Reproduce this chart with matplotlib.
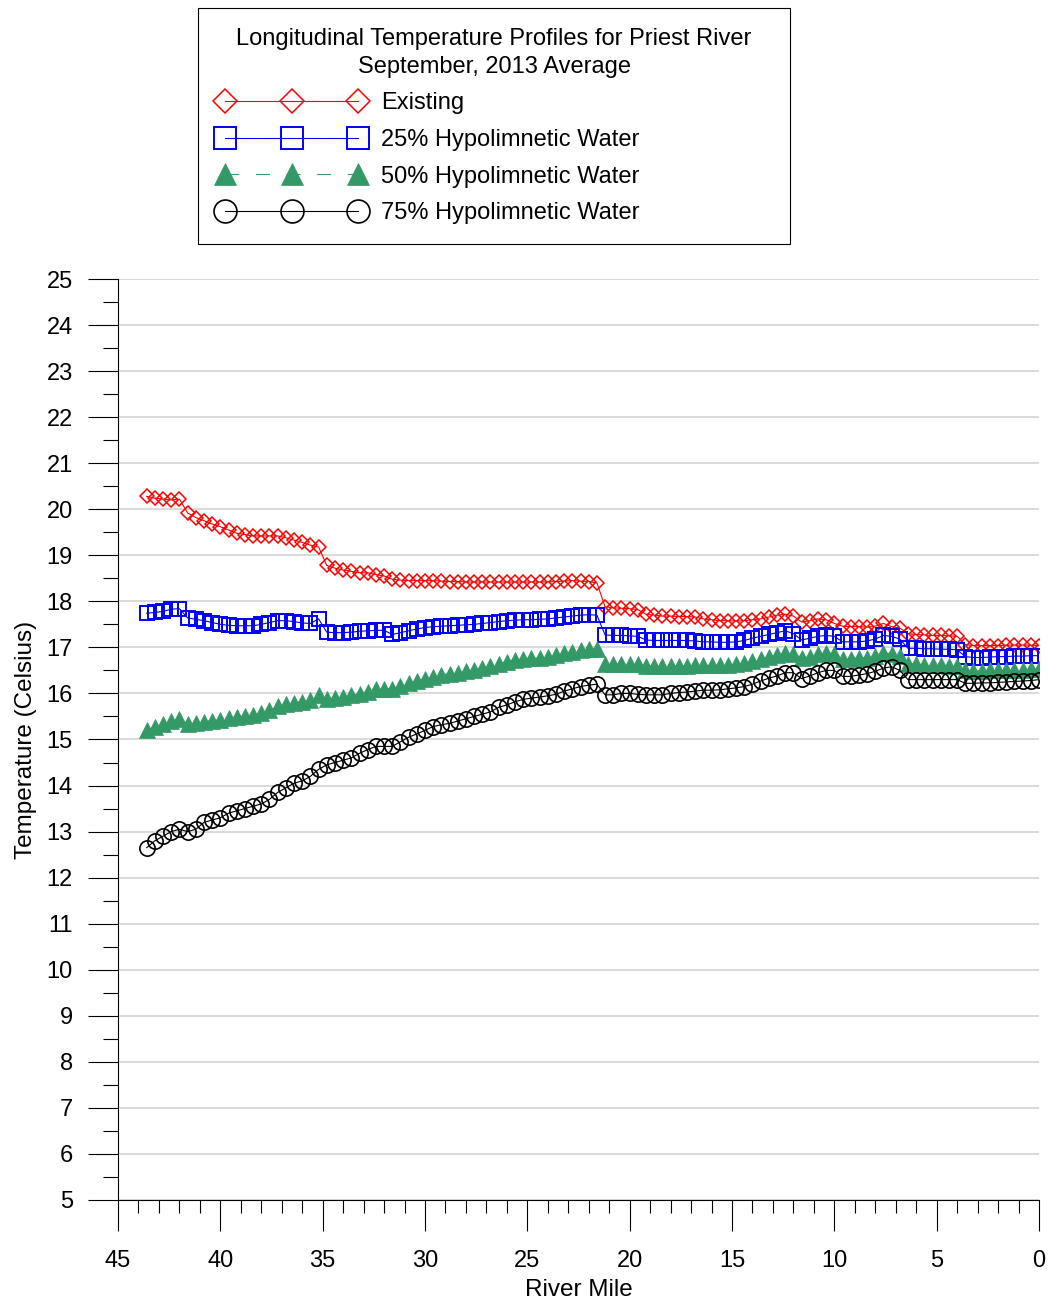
import numpy as np
import matplotlib
matplotlib.use('Agg')
import matplotlib.pyplot as plt
import matplotlib.ticker as ticker

plt.rcParams['font.family'] = ['Liberation Sans', 'DejaVu Sans']

# river mile stations (upstream -> downstream)
river_mile = [43.6, 43.2, 42.8, 42.4, 42.0, 41.6, 41.2, 40.8, 40.4, 40.0,
              39.6, 39.2, 38.8, 38.4, 38.0, 37.6, 37.2, 36.8, 36.4, 36.0,
              35.6, 35.2, 34.8, 34.4, 34.0, 33.6, 33.2, 32.8, 32.4, 32.0,
              31.6, 31.2, 30.8, 30.4, 30.0, 29.6, 29.2, 28.8, 28.4, 28.0,
              27.6, 27.2, 26.8, 26.4, 26.0, 25.6, 25.2, 24.8, 24.4, 24.0,
              23.6, 23.2, 22.8, 22.4, 22.0, 21.6, 21.2, 20.8, 20.4, 20.0,
              19.6, 19.2, 18.8, 18.4, 18.0, 17.6, 17.2, 16.8, 16.4, 16.0,
              15.6, 15.2, 14.8, 14.4, 14.0, 13.6, 13.2, 12.8, 12.4, 12.0,
              11.6, 11.2, 10.8, 10.4, 10.0, 9.6, 9.2, 8.8, 8.4, 8.0,
              7.6, 7.2, 6.8, 6.4, 6.0, 5.6, 5.2, 4.8, 4.4, 4.0,
              3.6, 3.2, 2.8, 2.4, 2.0, 1.6, 1.2, 0.8, 0.4, 0.0]

existing = [20.28, 20.24, 20.22, 20.20, 20.22, 19.92, 19.82, 19.75, 19.68, 19.62,
            19.55, 19.48, 19.45, 19.42, 19.42, 19.42, 19.42, 19.38, 19.33, 19.28,
            19.22, 19.18, 18.78, 18.72, 18.68, 18.65, 18.62, 18.62, 18.58, 18.55,
            18.48, 18.46, 18.45, 18.45, 18.45, 18.45, 18.44, 18.43, 18.43, 18.42,
            18.42, 18.42, 18.42, 18.42, 18.42, 18.42, 18.42, 18.42, 18.42, 18.42,
            18.43, 18.44, 18.45, 18.44, 18.43, 18.40, 17.88, 17.86, 17.85, 17.84,
            17.82, 17.72, 17.70, 17.68, 17.68, 17.67, 17.67, 17.66, 17.62, 17.60,
            17.58, 17.58, 17.57, 17.58, 17.60, 17.62, 17.66, 17.70, 17.72, 17.68,
            17.55, 17.58, 17.62, 17.60, 17.52, 17.46, 17.45, 17.45, 17.44, 17.46,
            17.52, 17.45, 17.42, 17.30, 17.28, 17.27, 17.26, 17.26, 17.25, 17.24,
            17.06, 17.04, 17.04, 17.04, 17.04, 17.05, 17.05, 17.05, 17.05, 17.04]

hypo25 = [17.74, 17.76, 17.78, 17.83, 17.84, 17.64, 17.61, 17.58, 17.54, 17.50,
          17.48, 17.47, 17.47, 17.47, 17.50, 17.54, 17.58, 17.58, 17.56, 17.53,
          17.52, 17.62, 17.33, 17.32, 17.32, 17.33, 17.35, 17.36, 17.37, 17.37,
          17.28, 17.32, 17.36, 17.40, 17.43, 17.45, 17.46, 17.47, 17.48, 17.49,
          17.50, 17.52, 17.54, 17.56, 17.58, 17.59, 17.60, 17.60, 17.61, 17.62,
          17.64, 17.66, 17.68, 17.70, 17.71, 17.70, 17.27, 17.26, 17.26, 17.25,
          17.24, 17.16, 17.15, 17.15, 17.15, 17.15, 17.15, 17.14, 17.12, 17.12,
          17.11, 17.11, 17.12, 17.15, 17.20, 17.24, 17.28, 17.32, 17.36, 17.30,
          17.16, 17.20, 17.24, 17.26, 17.24, 17.12, 17.12, 17.12, 17.14, 17.18,
          17.26, 17.24, 17.18, 16.98, 16.98, 16.97, 16.97, 16.96, 16.96, 16.95,
          16.80, 16.78, 16.78, 16.79, 16.80, 16.80, 16.81, 16.81, 16.82, 16.82]

hypo50 = [15.20, 15.28, 15.33, 15.40, 15.45, 15.33, 15.35, 15.39, 15.41, 15.43,
          15.46, 15.49, 15.51, 15.53, 15.57, 15.63, 15.72, 15.78, 15.80, 15.82,
          15.85, 15.97, 15.88, 15.90, 15.93, 15.96, 15.99, 16.04, 16.09, 16.10,
          16.10, 16.16, 16.22, 16.27, 16.32, 16.36, 16.40, 16.43, 16.45, 16.48,
          16.51, 16.55, 16.60, 16.65, 16.69, 16.73, 16.75, 16.76, 16.77, 16.79,
          16.83, 16.87, 16.91, 16.94, 16.96, 16.97, 16.64, 16.64, 16.65, 16.64,
          16.63, 16.60, 16.59, 16.59, 16.59, 16.60, 16.60, 16.61, 16.61, 16.61,
          16.61, 16.62, 16.63, 16.66, 16.70, 16.74, 16.79, 16.83, 16.88, 16.86,
          16.78, 16.80, 16.85, 16.88, 16.86, 16.74, 16.74, 16.76, 16.78, 16.82,
          16.88, 16.86, 16.82, 16.65, 16.63, 16.62, 16.62, 16.61, 16.60, 16.60,
          16.50, 16.49, 16.49, 16.50, 16.50, 16.50, 16.51, 16.51, 16.52, 16.53]

hypo75 = [12.65, 12.80, 12.90, 13.00, 13.05, 13.00, 13.05, 13.20, 13.25, 13.30,
          13.40, 13.45, 13.50, 13.55, 13.60, 13.70, 13.85, 13.95, 14.05, 14.10,
          14.20, 14.35, 14.45, 14.50, 14.55, 14.60, 14.70, 14.78, 14.85, 14.85,
          14.85, 14.95, 15.05, 15.12, 15.20, 15.28, 15.32, 15.35, 15.40, 15.45,
          15.50, 15.55, 15.60, 15.70, 15.75, 15.82, 15.87, 15.90, 15.92, 15.95,
          15.98, 16.05, 16.10, 16.15, 16.18, 16.20, 15.97, 15.97, 16.00, 16.00,
          15.98, 15.97, 15.97, 15.97, 16.00, 16.02, 16.03, 16.05, 16.07, 16.07,
          16.08, 16.10, 16.12, 16.15, 16.20, 16.27, 16.33, 16.38, 16.45, 16.45,
          16.32, 16.38, 16.45, 16.50, 16.50, 16.37, 16.37, 16.40, 16.43, 16.48,
          16.55, 16.58, 16.50, 16.30, 16.30, 16.30, 16.30, 16.30, 16.30, 16.30,
          16.22, 16.22, 16.23, 16.23, 16.24, 16.25, 16.26, 16.27, 16.28, 16.30]

legend_title = 'Longitudinal Temperature Profiles for Priest River\nSeptember, 2013 Average'
labels = ['Existing', '25% Hypolimnetic Water', '50% Hypolimnetic Water', '75% Hypolimnetic Water']
green = '#339966'

fig = plt.figure(figsize=(10.5, 13.05), dpi=100)
ax = fig.add_axes([0.1124, 0.0805, 0.8771, 0.7057])

ax.plot(river_mile, existing, color='red', lw=0.8, marker='D', ms=7.5,
        mfc='none', mec='red', mew=1.1, label=labels[0])
ax.plot(river_mile, hypo25, color='blue', lw=0.8, marker='s', ms=10.5,
        mfc='none', mec='blue', mew=1.4, label=labels[1])
ax.plot(river_mile, hypo50, color=green, lw=0.8, ls=(0, (12.5, 15)), marker='^', ms=11.5,
        mfc=green, mec=green, mew=0.5, label=labels[2])
ax.plot(river_mile, hypo75, color='black', lw=0.8, marker='o', ms=11,
        mfc='none', mec='black', mew=1.2, label=labels[3])

ax.set_xlim(45, 0)
ax.set_ylim(5, 25)
ax.xaxis.set_major_locator(ticker.MultipleLocator(5))
ax.xaxis.set_minor_locator(ticker.MultipleLocator(1))
ax.yaxis.set_major_locator(ticker.MultipleLocator(1))
ax.yaxis.set_minor_locator(ticker.MultipleLocator(0.5))
ax.yaxis.grid(True, which='major', color='#d0d0d0', lw=1.1)
ax.set_axisbelow(True)

for s in ['top', 'right']:
    ax.spines[s].set_visible(False)

ax.tick_params(axis='x', which='major', direction='out', length=22, width=0.8, pad=14, labelsize=17)
ax.tick_params(axis='x', which='minor', direction='out', length=9.5, width=0.8)
ax.tick_params(axis='y', which='major', direction='out', length=21.5, width=0.8, pad=11, labelsize=17)
ax.tick_params(axis='y', which='minor', direction='out', length=11, width=0.8)

ax.set_xlabel('River Mile', fontsize=17.5, labelpad=5)
ax.set_ylabel('Temperature (Celsius)', fontsize=17.5, labelpad=7)

leg = fig.legend(loc='upper left', bbox_to_anchor=(0.1886, 0.816, 0.5638, 0.1779), mode='expand',
                 title=legend_title, title_fontsize=17, fontsize=17, numpoints=3,
                 handlelength=6.24, handletextpad=0.68, labelspacing=0.62,
                 fancybox=False, framealpha=1, edgecolor='black', borderpad=0.85,
                 borderaxespad=0)
leg.get_frame().set_linewidth(0.8)
leg.get_title().set_multialignment('center')
leg.get_title().set_linespacing(1.34)
# legend symbols are drawn larger than the plot symbols
for h, size in zip(leg.legend_handles, [12.7, 15.8, 16.5, 16.5]):
    h.set_markersize(size)

plt.savefig('out.png', dpi=100)
plt.close()
